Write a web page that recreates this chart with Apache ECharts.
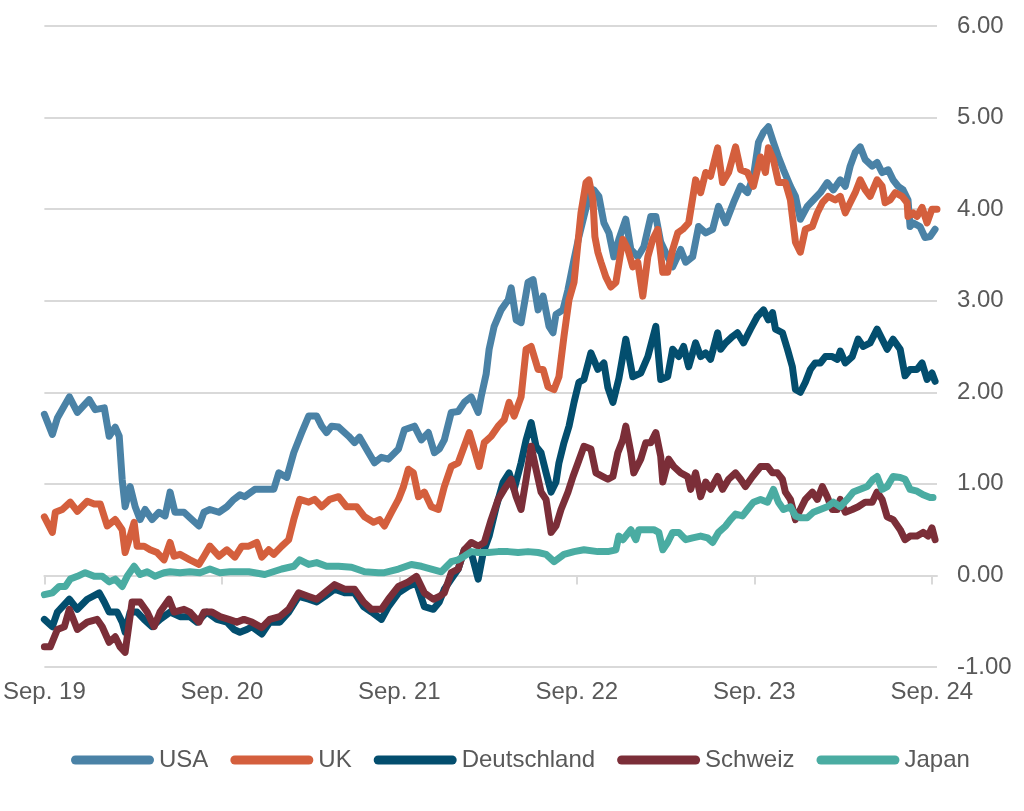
<!DOCTYPE html>
<html>
<head>
<meta charset="utf-8">
<script src="https://cdn.jsdelivr.net/npm/echarts@6/dist/echarts.min.js"></script>
<style>html,body{margin:0;padding:0;background:#fff}#chart{width:1024px;height:811px}</style>
</head>
<body>
<div id="chart"></div>
<script>
// x = months since Sep. 2019, y = yield in %
const xTickValues = [0, 12, 24, 36, 48, 60];
const xTickLabels = ['Sep. 19', 'Sep. 20', 'Sep. 21', 'Sep. 22', 'Sep. 23', 'Sep. 24'];
const seriesNames = ['USA', 'UK', 'Deutschland', 'Schweiz', 'Japan'];

const usa = [[0,1.76],[0.54,1.54],[0.88,1.72],[1.69,1.95],[2.23,1.78],[3.03,1.92],[3.44,1.81],[4.05,1.83],[4.38,1.52],[4.79,1.62],[5.06,1.52],[5.26,1.05],[5.46,0.75],[5.80,0.97],[6.14,0.75],[6.47,0.61],[6.81,0.72],[7.28,0.61],[7.75,0.69],[8.16,0.65],[8.50,0.91],[8.83,0.69],[9.44,0.69],[9.84,0.63],[10.45,0.54],[10.79,0.69],[11.19,0.72],[11.80,0.69],[12.34,0.75],[12.81,0.83],[13.22,0.88],[13.55,0.86],[14.23,0.94],[14.83,0.94],[15.51,0.94],[15.85,1.12],[16.39,1.07],[16.86,1.34],[17.40,1.56],[17.87,1.74],[18.41,1.74],[18.75,1.63],[19.08,1.56],[19.42,1.63],[19.89,1.62],[20.57,1.52],[20.97,1.45],[21.31,1.51],[21.92,1.34],[22.32,1.23],[22.79,1.29],[23.26,1.27],[23.94,1.38],[24.34,1.59],[25.02,1.63],[25.49,1.48],[25.96,1.56],[26.37,1.34],[26.70,1.38],[27.04,1.48],[27.51,1.78],[27.98,1.79],[28.39,1.89],[28.86,1.95],[29.33,1.78],[29.53,1.95],[29.87,2.20],[30.07,2.47],[30.41,2.72],[30.88,2.90],[31.36,3.01],[31.56,3.14],[31.90,2.79],[32.23,2.76],[32.70,3.20],[33.04,3.23],[33.38,2.90],[33.72,3.05],[34.12,2.72],[34.39,2.65],[34.59,2.85],[35.06,2.90],[35.40,3.12],[35.81,3.45],[36.14,3.70],[36.48,3.92],[36.82,4.14],[37.15,4.21],[37.49,4.14],[37.83,3.85],[38.17,3.74],[38.50,3.48],[38.84,3.67],[39.31,3.89],[39.65,3.56],[40.12,3.48],[40.53,3.59],[41.00,3.92],[41.34,3.92],[41.67,3.64],[42.14,3.48],[42.48,3.37],[43.02,3.56],[43.36,3.42],[43.83,3.48],[44.23,3.81],[44.71,3.74],[45.18,3.78],[45.58,4.03],[46.06,3.85],[46.59,4.07],[47.07,4.25],[47.54,4.18],[47.94,4.36],[48.28,4.73],[48.62,4.84],[48.95,4.90],[49.29,4.73],[49.63,4.57],[49.97,4.43],[50.44,4.25],[50.78,4.14],[51.11,3.89],[51.58,4.03],[51.99,4.10],[52.46,4.18],[52.93,4.29],[53.34,4.21],[53.81,4.32],[54.15,4.25],[54.48,4.47],[54.82,4.62],[55.16,4.68],[55.50,4.54],[55.97,4.47],[56.30,4.51],[56.64,4.40],[57.05,4.43],[57.38,4.32],[57.72,4.25],[58.06,4.21],[58.39,4.10],[58.53,3.81],[58.73,3.85],[59.20,3.81],[59.54,3.69],[59.88,3.70],[60.22,3.78]];

const uk = [[0,0.64],[0.54,0.47],[0.74,0.69],[1.21,0.72],[1.75,0.80],[2.23,0.70],[2.90,0.81],[3.37,0.78],[3.78,0.78],[4.25,0.54],[4.79,0.61],[5.26,0.50],[5.46,0.25],[5.80,0.43],[6.07,0.58],[6.27,0.32],[6.74,0.32],[7.15,0.28],[7.62,0.25],[8.09,0.17],[8.50,0.36],[8.77,0.21],[9.17,0.23],[9.84,0.17],[10.45,0.12],[10.79,0.21],[11.19,0.32],[11.80,0.21],[12.34,0.28],[12.88,0.20],[13.35,0.32],[13.82,0.32],[14.36,0.36],[14.70,0.20],[15.17,0.28],[15.51,0.23],[16.05,0.32],[16.52,0.39],[16.86,0.61],[17.26,0.83],[17.87,0.80],[18.27,0.83],[18.75,0.75],[19.29,0.83],[19.89,0.86],[20.43,0.75],[21.11,0.75],[21.65,0.64],[22.25,0.58],[22.66,0.61],[22.99,0.54],[23.47,0.69],[23.94,0.83],[24.28,0.97],[24.61,1.16],[24.95,1.12],[25.29,0.86],[25.69,0.91],[26.16,0.75],[26.64,0.72],[27.04,0.97],[27.51,1.19],[27.98,1.23],[28.39,1.41],[28.73,1.56],[29.06,1.38],[29.40,1.19],[29.74,1.45],[30.21,1.52],[30.68,1.63],[31.09,1.70],[31.42,1.89],[31.76,1.74],[32.23,1.95],[32.57,2.47],[32.91,2.50],[33.38,2.25],[33.72,2.25],[34.05,2.06],[34.46,2.03],[34.79,2.17],[35.13,2.61],[35.47,3.01],[35.81,3.20],[36.08,3.64],[36.28,3.96],[36.62,4.29],[36.82,4.32],[37.09,4.10],[37.22,3.70],[37.42,3.53],[37.63,3.42],[37.96,3.26],[38.30,3.15],[38.64,3.20],[39.11,3.67],[39.45,3.56],[39.78,3.37],[40.12,3.42],[40.46,3.05],[40.80,3.48],[41.13,3.67],[41.47,3.78],[41.81,3.31],[42.14,3.31],[42.48,3.56],[42.82,3.74],[43.16,3.78],[43.56,3.85],[44.03,4.32],[44.37,4.18],[44.71,4.40],[45.04,4.36],[45.52,4.67],[45.85,4.29],[46.26,4.40],[46.73,4.68],[47.07,4.43],[47.54,4.40],[47.94,4.25],[48.42,4.57],[48.75,4.40],[48.95,4.67],[49.29,4.54],[49.63,4.29],[50.10,4.29],[50.44,4.10],[50.78,3.64],[51.11,3.53],[51.45,3.78],[51.92,3.81],[52.26,3.96],[52.60,4.07],[53.00,4.14],[53.47,4.10],[53.81,4.14],[54.15,3.96],[54.48,4.07],[54.82,4.18],[55.16,4.32],[55.50,4.21],[55.83,4.14],[56.30,4.32],[56.64,4.25],[56.84,4.07],[57.18,4.10],[57.52,4.18],[57.99,4.14],[58.33,4.07],[58.39,3.92],[58.73,3.96],[59.00,3.92],[59.34,4.02],[59.68,3.85],[60.01,4.00],[60.35,4.00]];

const deutschland = [[0,-0.48],[0.54,-0.56],[0.88,-0.40],[1.69,-0.26],[2.23,-0.37],[2.90,-0.26],[3.71,-0.19],[4.05,-0.29],[4.38,-0.40],[4.92,-0.40],[5.26,-0.51],[5.46,-0.62],[5.80,-0.40],[6.27,-0.40],[6.74,-0.48],[7.28,-0.56],[7.82,-0.48],[8.50,-0.40],[9.17,-0.45],[9.84,-0.45],[10.32,-0.51],[10.99,-0.40],[11.67,-0.48],[12.34,-0.51],[12.81,-0.59],[13.22,-0.62],[13.69,-0.59],[14.03,-0.56],[14.70,-0.64],[15.24,-0.51],[15.91,-0.51],[16.52,-0.40],[17.19,-0.23],[17.87,-0.26],[18.41,-0.29],[18.95,-0.23],[19.62,-0.15],[20.30,-0.19],[20.97,-0.19],[21.58,-0.34],[22.12,-0.40],[22.79,-0.48],[23.26,-0.34],[23.94,-0.19],[24.61,-0.12],[25.15,-0.08],[25.69,-0.34],[26.30,-0.37],[26.70,-0.29],[27.04,-0.15],[27.51,-0.04],[27.98,0.07],[28.39,0.28],[28.86,0.25],[29.33,-0.04],[29.67,0.25],[30.07,0.43],[30.55,0.75],[31.02,1.02],[31.42,1.12],[31.76,0.94],[32.23,1.23],[32.57,1.48],[32.91,1.67],[33.24,1.41],[33.58,1.34],[33.92,1.12],[34.26,0.91],[34.59,1.02],[34.79,1.23],[35.13,1.45],[35.47,1.63],[35.81,1.89],[36.14,2.11],[36.48,2.14],[36.95,2.43],[37.42,2.25],[37.83,2.32],[38.10,2.05],[38.44,1.89],[38.84,2.15],[39.31,2.58],[39.78,2.17],[40.32,2.21],[40.80,2.39],[41.34,2.72],[41.67,2.14],[42.14,2.17],[42.48,2.47],[42.89,2.39],[43.22,2.50],[43.56,2.28],[44.03,2.54],[44.37,2.39],[44.71,2.43],[45.04,2.36],[45.52,2.65],[45.72,2.47],[46.06,2.54],[46.53,2.61],[46.86,2.65],[47.27,2.54],[47.74,2.69],[48.21,2.83],[48.62,2.90],[48.95,2.79],[49.23,2.87],[49.43,2.69],[49.90,2.65],[50.24,2.47],[50.57,2.28],[50.78,2.03],[51.11,2.00],[51.45,2.11],[51.79,2.25],[52.12,2.32],[52.46,2.32],[52.80,2.39],[53.27,2.39],[53.61,2.36],[53.81,2.45],[54.15,2.32],[54.62,2.39],[55.02,2.58],[55.36,2.50],[55.83,2.54],[56.30,2.69],[56.64,2.58],[56.98,2.47],[57.38,2.58],[57.86,2.47],[58.19,2.18],[58.53,2.25],[59.00,2.25],[59.34,2.32],[59.68,2.14],[60.01,2.21],[60.22,2.12]];

const schweiz = [[0,-0.78],[0.40,-0.78],[0.88,-0.59],[1.35,-0.56],[1.69,-0.37],[2.23,-0.59],[2.90,-0.51],[3.57,-0.48],[3.91,-0.56],[4.38,-0.73],[4.79,-0.67],[5.12,-0.78],[5.46,-0.84],[5.93,-0.29],[6.47,-0.29],[6.95,-0.40],[7.42,-0.56],[7.82,-0.40],[8.43,-0.26],[8.77,-0.40],[9.44,-0.37],[9.84,-0.40],[10.45,-0.51],[10.79,-0.40],[11.33,-0.40],[11.87,-0.45],[12.47,-0.48],[13.01,-0.51],[13.49,-0.48],[14.03,-0.51],[14.70,-0.57],[15.24,-0.48],[15.91,-0.45],[16.52,-0.37],[17.19,-0.19],[17.87,-0.23],[18.41,-0.26],[18.95,-0.19],[19.62,-0.10],[20.30,-0.15],[20.97,-0.15],[21.58,-0.29],[22.12,-0.37],[22.79,-0.37],[23.26,-0.26],[23.94,-0.12],[24.61,-0.07],[25.15,-0.01],[25.69,-0.19],[26.30,-0.26],[26.70,-0.23],[27.04,-0.19],[27.51,0.03],[27.98,0.07],[28.39,0.28],[28.86,0.36],[29.33,0.32],[29.74,0.36],[30.21,0.61],[30.68,0.83],[31.09,0.94],[31.56,1.05],[31.90,0.86],[32.23,0.72],[32.57,1.05],[32.91,1.41],[33.24,1.16],[33.58,0.91],[33.92,0.83],[34.26,0.47],[34.59,0.54],[34.93,0.72],[35.40,0.91],[35.74,1.08],[36.08,1.23],[36.48,1.41],[36.95,1.38],[37.29,1.12],[37.76,1.08],[38.10,1.05],[38.44,1.08],[38.77,1.34],[39.11,1.48],[39.31,1.63],[39.65,1.34],[39.85,1.12],[40.32,1.27],[40.66,1.45],[41.00,1.45],[41.34,1.56],[41.67,1.30],[41.81,1.02],[42.21,1.27],[42.55,1.19],[43.02,1.12],[43.49,1.08],[43.70,0.94],[44.03,1.12],[44.37,0.86],[44.71,1.02],[45.04,0.94],[45.52,1.08],[45.85,0.94],[46.26,1.05],[46.73,1.12],[47.07,1.05],[47.40,0.97],[47.88,1.08],[48.42,1.19],[48.89,1.19],[49.23,1.12],[49.56,1.12],[49.90,1.05],[50.10,0.91],[50.44,0.83],[50.78,0.61],[51.11,0.72],[51.45,0.83],[51.92,0.91],[52.26,0.83],[52.60,0.97],[52.93,0.86],[53.27,0.72],[53.61,0.72],[53.81,0.83],[54.15,0.69],[54.62,0.72],[55.02,0.75],[55.50,0.80],[55.97,0.80],[56.30,0.91],[56.64,0.83],[56.98,0.64],[57.38,0.61],[57.86,0.50],[58.19,0.39],[58.53,0.43],[59.00,0.43],[59.41,0.47],[59.74,0.43],[60.01,0.52],[60.22,0.39]];

const japan = [[0,-0.21],[0.54,-0.19],[1.01,-0.12],[1.42,-0.12],[1.75,-0.04],[2.23,-0.01],[2.76,0.03],[3.37,-0.01],[3.91,-0.01],[4.38,-0.07],[4.79,-0.04],[5.26,-0.12],[5.60,-0.01],[6.07,0.10],[6.47,0.01],[6.95,0.04],[7.48,-0.01],[8.09,0.03],[8.50,0.04],[9.17,0.03],[9.84,0.04],[10.52,0.03],[11.19,0.07],[11.87,0.03],[12.54,0.04],[13.22,0.04],[13.82,0.04],[14.90,0.01],[16.05,0.07],[16.86,0.10],[17.26,0.17],[17.87,0.12],[18.41,0.14],[19.08,0.10],[19.89,0.10],[20.77,0.09],[21.65,0.04],[22.59,0.03],[22.99,0.03],[23.94,0.07],[24.81,0.12],[25.49,0.10],[26.16,0.07],[26.84,0.04],[27.51,0.15],[27.98,0.17],[28.39,0.21],[28.86,0.26],[29.33,0.25],[30.01,0.25],[30.68,0.26],[31.36,0.26],[32.03,0.25],[32.70,0.26],[33.38,0.25],[33.92,0.23],[34.46,0.15],[35.13,0.23],[35.81,0.26],[36.48,0.28],[37.42,0.26],[38.10,0.26],[38.64,0.28],[38.84,0.43],[39.11,0.39],[39.65,0.50],[39.99,0.39],[40.19,0.50],[40.80,0.50],[41.20,0.50],[41.54,0.47],[41.81,0.28],[42.14,0.36],[42.48,0.47],[42.89,0.47],[43.36,0.39],[43.83,0.41],[44.37,0.43],[44.84,0.41],[45.18,0.36],[45.58,0.47],[46.06,0.54],[46.39,0.61],[46.73,0.67],[47.20,0.65],[47.54,0.72],[47.94,0.80],[48.42,0.83],[48.89,0.80],[49.29,0.94],[49.63,0.80],[49.97,0.72],[50.44,0.75],[50.78,0.65],[51.11,0.63],[51.58,0.63],[51.99,0.69],[52.46,0.72],[52.93,0.75],[53.34,0.80],[53.81,0.75],[54.28,0.83],[54.69,0.91],[55.16,0.94],[55.63,0.97],[56.03,1.05],[56.30,1.08],[56.64,0.94],[56.98,0.97],[57.38,1.08],[57.86,1.07],[58.19,1.05],[58.53,0.94],[59.00,0.92],[59.41,0.88],[59.88,0.85],[60.08,0.85]];

const yTicks = [-1, 0, 1, 2, 3, 4, 5, 6];

const colors = ['#4a82a6', '#d45f3d', '#034e6e', '#7b2e38', '#4aaca2'];
const seriesData = [usa, uk, deutschland, schweiz, japan];
const FONT = "'Liberation Sans', Arial, sans-serif";
const capsule = 'path://M4.5,0 H78.5 A4.5,4.5 0 0 1 78.5,9 H4.5 A4.5,4.5 0 0 1 4.5,0 Z';

const chart = echarts.init(document.getElementById('chart'), null, {renderer: 'canvas'});
chart.setOption({
  animation: false,
  backgroundColor: '#ffffff',
  color: colors,
  grid: {left: 42, right: 87, top: 26, bottom: 144, containLabel: false},
  xAxis: [{
    type: 'value', min: 0, max: 60.35,
    axisLine: {show: false, onZero: false},
    axisTick: {show: false},
    splitLine: {show: false},
    axisLabel: {
      customValues: xTickValues,
      formatter: v => xTickLabels[xTickValues.indexOf(v)] || '',
      fontFamily: FONT, fontSize: 24, color: '#595959', margin: 13
    }
  }, {
    type: 'value', min: 0, max: 60.35, position: 'top',
    axisLine: {show: true, onZero: true, lineStyle: {color: '#d9d9d9', width: 2}},
    axisTick: {show: true, inside: true, length: 9, customValues: xTickValues, lineStyle: {color: '#d9d9d9', width: 2}},
    axisLabel: {show: false},
    splitLine: {show: false}
  }],
  yAxis: {
    type: 'value', position: 'right', min: yTicks[0], max: yTicks[yTicks.length - 1], interval: 1,
    axisLine: {show: false}, axisTick: {show: false},
    splitLine: {show: true, lineStyle: {color: '#d9d9d9', width: 2}},
    axisLabel: {
      formatter: v => v.toFixed(2),
      fontFamily: FONT, fontSize: 24, color: '#595959', margin: 20
    }
  },
  legend: {
    left: 66, top: 743, itemWidth: 83, itemHeight: 9, itemGap: 22,
    icon: capsule,
    textStyle: {fontFamily: FONT, fontSize: 24, color: '#595959'},
    data: seriesNames
  },
  series: seriesNames.map((name, i) => ({
    name, type: 'line', data: seriesData[i], xAxisIndex: 0,
    showSymbol: false, symbol: 'none', smooth: false,
    lineStyle: {width: 7, color: colors[i], cap: 'round', join: 'round'},
    itemStyle: {color: colors[i]}
  }))
});
</script>
</body>
</html>
